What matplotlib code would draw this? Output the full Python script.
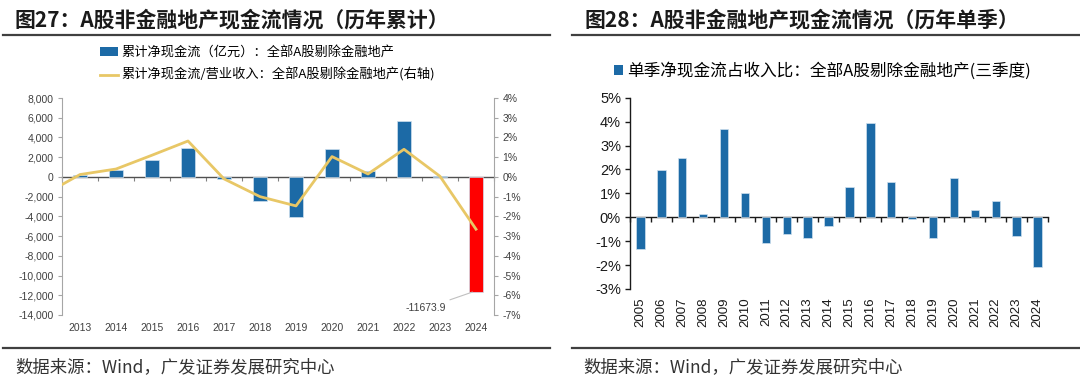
import matplotlib
matplotlib.use("Agg")
import matplotlib.pyplot as plt
from matplotlib.ticker import FuncFormatter, FixedLocator
from matplotlib.patches import Patch
from matplotlib.lines import Line2D
import numpy as np

plt.rcParams['font.family'] = ['Liberation Sans', 'Noto Sans CJK SC', 'DejaVu Sans']
CJK = ['Noto Sans CJK SC', 'DejaVu Sans']

# ---------------- data ----------------
cum_years = [2013, 2014, 2015, 2016, 2017, 2018, 2019, 2020, 2021, 2022, 2023, 2024]
cum_cashflow = [170, 680, 1700, 2900, -200, -2440, -4030, 2810, 580, 5700, 80, -11673.9]
ratio_years = [2012, 2013, 2014, 2015, 2016, 2017, 2018, 2019, 2020, 2021, 2022, 2023, 2024]
cum_ratio = [-0.90, 0.12, 0.40, 1.10, 1.82, -0.10, -1.00, -1.47, 1.03, 0.15, 1.40, 0.03, -2.65]

q_years = [2005, 2006, 2007, 2008, 2009, 2010, 2011, 2012, 2013, 2014,
           2015, 2016, 2017, 2018, 2019, 2020, 2021, 2022, 2023, 2024]
q_ratio = [-1.33, 1.99, 2.47, 0.12, 3.69, 1.01, -1.08, -0.70, -0.87, -0.36,
           1.28, 3.95, 1.48, -0.08, -0.87, 1.63, 0.30, 0.68, -0.77, -2.06]

left_title = "图27：A股非金融地产现金流情况（历年累计）"
right_title = "图28：A股非金融地产现金流情况（历年单季）"
bar_label = "累计净现金流（亿元）：全部A股剔除金融地产"
line_label = "累计净现金流/营业收入：全部A股剔除金融地产(右轴)"
q_label = "单季净现金流占收入比：全部A股剔除金融地产(三季度)"
source = "数据来源：Wind，广发证券发展研究中心"

BLUE = '#1c6aa6'
RED = '#ff0000'
GOLD = '#e8c766'
W, H = 1080, 381

fig = plt.figure(figsize=(10.8, 3.81), dpi=100)

def fx(px):
    return px / W

def fy(py):
    return 1 - py / H

# ---------------- titles & rules ----------------
fig.text(fx(15), fy(20), left_title, fontsize=15, fontweight='bold', family=CJK,
         va='center', ha='left', color='#1a1a1a')
fig.text(fx(585), fy(20), right_title, fontsize=15, fontweight='bold', family=CJK,
         va='center', ha='left', color='#1a1a1a')
for x0, x1 in [(3, 550), (572, 1080)]:
    fig.add_artist(Line2D([fx(x0), fx(x1)], [fy(35), fy(35)], color='#404040', lw=1.6))
    fig.add_artist(Line2D([fx(x0), fx(x1)], [fy(348), fy(348)], color='#404040', lw=1.6))
fig.text(fx(15), fy(367), source, fontsize=12.5, family=CJK, va='center', ha='left', color='#333333')
fig.text(fx(583), fy(367), source, fontsize=12.5, family=CJK, va='center', ha='left', color='#333333')

# ---------------- left chart ----------------
ax = fig.add_axes([fx(62), fy(315), fx(494) - fx(62), fy(98) - fy(315)])
x = np.arange(len(cum_years))
colors = [BLUE] * (len(cum_cashflow) - 1) + [RED]
ax.bar(x, cum_cashflow, width=0.4, color=colors, edgecolor='#cfe0ee', linewidth=0.5, zorder=2)
ax.set_xlim(-0.5, len(cum_years) - 0.5)
ax.set_ylim(-14000, 8000)
ax.set_yticks(np.arange(-14000, 8001, 2000))
ax.yaxis.set_major_formatter(FuncFormatter(lambda v, p: f"{v:,.0f}".replace('−', '-')))
ax.set_xticks(x)
ax.set_xticklabels([str(y) for y in cum_years])
ax.tick_params(axis='x', length=0, labelsize=7.5, colors='#404040', pad=6)
ax.tick_params(axis='y', length=3, labelsize=7.5, colors='#404040', pad=3, width=0.8)
ax.tick_params(axis='y', color='#a6a6a6')
for s in ['top', 'bottom', 'right']:
    ax.spines[s].set_visible(False)
ax.spines['left'].set_color('#a6a6a6')

zero_frac = (0 - ax.get_ylim()[0]) / (ax.get_ylim()[1] - ax.get_ylim()[0])
sec = ax.secondary_xaxis(zero_frac)
sec.xaxis.set_major_locator(FixedLocator(np.arange(-0.5, len(cum_years), 1.0)))
sec.tick_params(axis='x', direction='out', length=3, labelbottom=False, labeltop=False,
                bottom=True, top=False, color='#808080', width=0.8)
sec.spines['bottom'].set_color('#505050')
sec.spines['bottom'].set_linewidth(1.0)
sec.spines['top'].set_visible(False)
sec.spines['bottom'].set_visible(True)

ax2 = ax.twinx()
lx = [yr - cum_years[0] for yr in ratio_years]
ax2.plot(lx, cum_ratio, color=GOLD, lw=2.0, zorder=3)
ax2.set_ylim(-7, 4)
ax2.set_yticks(np.arange(-7, 4.1, 1))
ax2.yaxis.set_major_formatter(FuncFormatter(lambda v, p: f"{v:.0f}%".replace('−', '-')))
ax2.tick_params(axis='y', length=3, labelsize=7.5, colors='#404040', pad=3, width=0.8)
ax2.tick_params(axis='y', color='#a6a6a6')
for s in ['top', 'bottom', 'left']:
    ax2.spines[s].set_visible(False)
ax2.spines['right'].set_color('#a6a6a6')
ax2.set_xlim(-0.5, len(cum_years) - 0.5)

ax.annotate(f"{cum_cashflow[-1]}", xy=(x[-1] - 0.1, cum_cashflow[-1]), xytext=(-26, -16),
            textcoords='offset pixels', ha='right', va='center', fontsize=7.5, color='#404040',
            arrowprops=dict(arrowstyle='-', color='#c0c0c0', lw=0.8, shrinkA=1, shrinkB=0))

handles = [Patch(facecolor=BLUE, edgecolor='none'), Line2D([], [], color=GOLD, lw=2)]
fig.legend(handles, [bar_label, line_label], loc='upper left', bbox_to_anchor=(fx(100), fy(46)),
           frameon=False, prop={'family': CJK, 'size': 9.5}, handlelength=1.4, handleheight=0.6,
           handletextpad=0.2, labelspacing=0.65, borderpad=0, borderaxespad=0)

# ---------------- right chart ----------------
bx = fig.add_axes([fx(630), fy(289), fx(1048) - fx(630), fy(97.7) - fy(289)])
qx = np.arange(len(q_years))
bx.bar(qx, q_ratio, width=0.4, color=BLUE, edgecolor='#cfe0ee', linewidth=0.5, zorder=2)
bx.set_xlim(-0.5, len(q_years) - 0.5)
bx.set_ylim(-3, 5)
bx.set_yticks(np.arange(-3, 5.1, 1))
bx.yaxis.set_major_formatter(FuncFormatter(lambda v, p: f"{v:.0f}%".replace('−', '-')))
bx.set_xticks(qx)
bx.set_xticklabels([str(y) for y in q_years], rotation=90)
bx.tick_params(axis='x', length=0, labelsize=9.5, colors='#1a1a1a', pad=6)
bx.tick_params(axis='y', length=3.5, labelsize=10.5, colors='#1a1a1a', pad=3, width=1)
for s in ['top', 'bottom', 'right']:
    bx.spines[s].set_visible(False)
bx.spines['left'].set_color('#1a1a1a')
bx.spines['left'].set_linewidth(1.0)

zf = (0 - bx.get_ylim()[0]) / (bx.get_ylim()[1] - bx.get_ylim()[0])
sec2 = bx.secondary_xaxis(zf)
sec2.xaxis.set_major_locator(FixedLocator(np.arange(-0.5, len(q_years), 1.0)))
sec2.tick_params(axis='x', direction='out', length=3.5, labelbottom=False, labeltop=False,
                 bottom=True, top=False, color='#1a1a1a', width=1)
sec2.spines['bottom'].set_color('#1a1a1a')
sec2.spines['bottom'].set_linewidth(1.0)
sec2.spines['top'].set_visible(False)

fig.legend([Patch(facecolor=BLUE, edgecolor='none')], [q_label], loc='center left',
           bbox_to_anchor=(fx(614), fy(71)), frameon=False, prop={'family': CJK, 'size': 12},
           handlelength=0.55, handleheight=0.55, handletextpad=0.25, borderpad=0, borderaxespad=0)

fig.savefig('out.png', dpi=100)
